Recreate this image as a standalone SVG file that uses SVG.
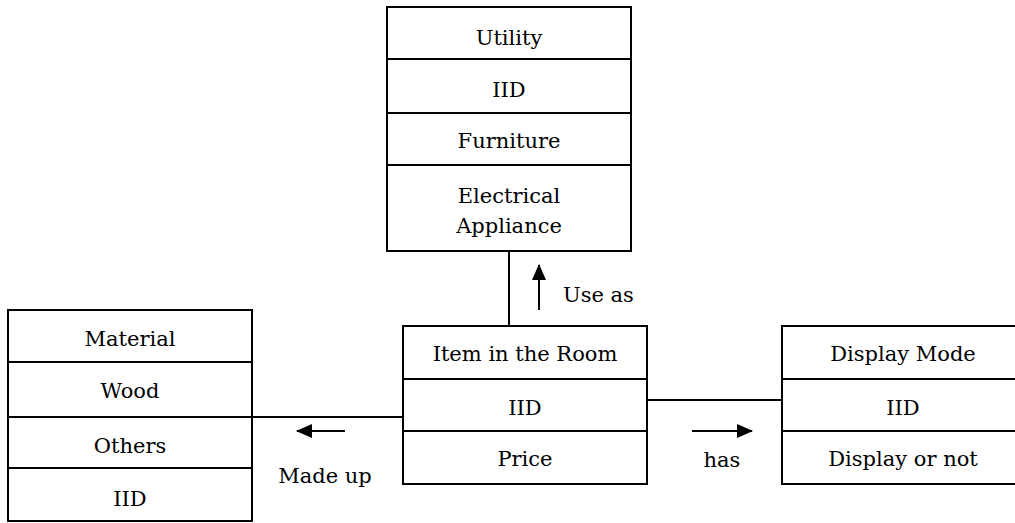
<svg xmlns="http://www.w3.org/2000/svg" width="1015" height="523" viewBox="0 0 1015 523">
  <style>
    .box { fill: #ffffff; stroke: #000000; stroke-width: 2; }
    .div { stroke: #000000; stroke-width: 2; }
    .link { stroke: #000000; stroke-width: 2; fill: none; }
    .dir { stroke: #000000; stroke-width: 2; fill: none; marker-end: url(#head); }
    text { font-family: "DejaVu Serif", "Liberation Serif", serif; font-size: 21px; fill: #000000; text-anchor: middle; }
    .lbl { text-anchor: start; }
  </style>
  <defs>
    <marker id="head" viewBox="0 0 16 14" refX="15" refY="7" markerWidth="16" markerHeight="14" markerUnits="userSpaceOnUse" orient="auto">
      <path d="M0,0 L16,7 L0,14 Z" fill="#000000"/>
    </marker>
  </defs>
  <rect width="1015" height="523" fill="#ffffff"/>

  <!-- connectors -->
  <g id="connectors">
    <line class="link" x1="509" y1="251" x2="509" y2="326"/>
    <line class="link" x1="252" y1="417" x2="403" y2="417"/>
    <line class="link" x1="647" y1="400" x2="782" y2="400"/>
    <line class="dir" x1="539" y1="310" x2="539" y2="265"/>
    <text class="lbl" x="563" y="302">Use as</text>
    <line class="dir" x1="345" y1="431" x2="297" y2="431"/>
    <text x="325" y="483">Made up</text>
    <line class="dir" x1="692" y1="431" x2="752" y2="431"/>
    <text x="722" y="467">has</text>
  </g>

  <!-- Utility -->
  <g id="utility">
    <rect class="box" x="387" y="7" width="244" height="244"/>
    <line class="div" x1="387" y1="59" x2="631" y2="59"/>
    <line class="div" x1="387" y1="113" x2="631" y2="113"/>
    <line class="div" x1="387" y1="165" x2="631" y2="165"/>
    <text x="509" y="45">Utility</text>
    <text x="509" y="97">IID</text>
    <text x="509" y="148">Furniture</text>
    <text x="509" y="203">Electrical</text>
    <text x="509" y="233">Appliance</text>
  </g>

  <!-- Material -->
  <g id="material">
    <rect class="box" x="8" y="310" width="244" height="211"/>
    <line class="div" x1="8" y1="362" x2="252" y2="362" stroke-width="3"/>
    <line class="div" x1="8" y1="417" x2="252" y2="417"/>
    <line class="div" x1="8" y1="468" x2="252" y2="468"/>
    <text x="130" y="346">Material</text>
    <text x="130" y="398">Wood</text>
    <text x="130" y="453">Others</text>
    <text x="130" y="506">IID</text>
  </g>

  <!-- Item in the Room -->
  <g id="item">
    <rect class="box" x="403" y="326" width="244" height="158"/>
    <line class="div" x1="403" y1="379" x2="647" y2="379"/>
    <line class="div" x1="403" y1="431" x2="647" y2="431"/>
    <text x="525" y="361">Item in the Room</text>
    <text x="525" y="415">IID</text>
    <text x="525" y="466">Price</text>
  </g>

  <!-- Display Mode -->
  <g id="display">
    <rect class="box" x="782" y="326" width="244" height="158"/>
    <line class="div" x1="782" y1="379" x2="1026" y2="379"/>
    <line class="div" x1="782" y1="431" x2="1026" y2="431"/>
    <text x="903" y="361">Display Mode</text>
    <text x="903" y="415">IID</text>
    <text x="903" y="466">Display or not</text>
  </g>
</svg>
